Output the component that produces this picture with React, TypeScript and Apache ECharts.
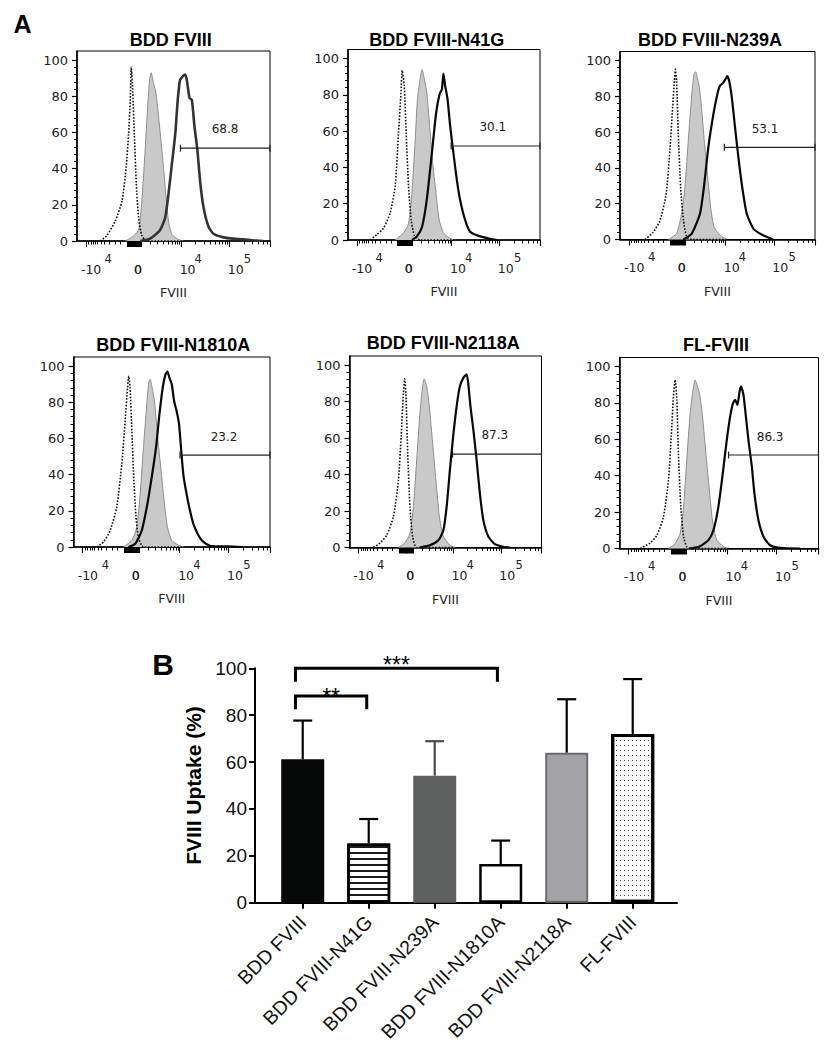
import React, { useEffect, useRef } from 'react';
import * as echarts from 'echarts';

// ---------------- Panel A: flow cytometry histograms ----------------
const PANEL_TITLES = ['BDD FVIII', 'BDD FVIII-N41G', 'BDD FVIII-N239A', 'BDD FVIII-N1810A', 'BDD FVIII-N2118A', 'FL-FVIII'];

// x in % of the biexponential axis width, y in % of mode
const P1_DOTTED = [[12, 0], [15.5, 3], [19.8, 11], [23.3, 22], [25.5, 41], [26.7, 59], [27.6, 78], [28.1, 96], [28.8, 85], [29.7, 59], [30.7, 32], [31.9, 13], [33.6, 3], [36, 0], [55, 0]];
const P1_GRAY = [[25, 0], [28.4, 2], [31.9, 6], [33.6, 22], [35.3, 50], [36.6, 74], [37.6, 89], [38.4, 93], [39.7, 87], [41, 81], [42.8, 63], [44.5, 44.5], [46, 26], [47.4, 11], [49, 4], [51.7, 1.3], [55, 0]];
const P1_BLACK = [[32.8, 0], [37.9, 1.3], [43, 6], [45.7, 13], [47.4, 26], [49, 41], [50.9, 59], [52.2, 78], [53.4, 89], [54.8, 91], [56, 92], [56.9, 89], [58.3, 79], [59.5, 78], [60.9, 63], [62.4, 50], [63.8, 33], [65.5, 19], [68.1, 8], [70.7, 4], [75.9, 2], [81, 1.3], [86.2, 1], [93, 0.2], [96.5, 0]];

const P2_DOTTED = [[11.6, 0], [15, 3], [18.5, 6.5], [22, 15], [24.6, 30], [26.3, 59], [27.6, 81], [28.2, 93.5], [29.3, 85], [30.3, 59], [31.5, 30], [32.9, 11], [34.7, 2], [37.6, 0], [55, 0]];
const P2_GRAY = [[24.6, 0], [29, 4], [31.5, 9], [33.3, 26], [35, 55.5], [36.2, 78], [37.6, 89], [38.6, 94], [39.7, 89], [41, 81.5], [42.5, 63], [44, 44], [45.8, 26], [47.5, 11], [49.7, 4], [52.3, 1.5], [55, 0]];
const P2_BLACK = [[33.3, 0], [35.9, 2], [38.5, 7], [41, 22], [43.7, 48], [45.9, 70], [47.7, 80.5], [48.9, 83], [49.7, 91.7], [50.6, 85], [51.8, 78], [53.2, 63], [54.9, 48], [56.7, 33], [58.4, 22], [61, 11], [63.6, 4.6], [68.8, 2], [74, 0.7], [77.5, 0]];

const P3_DOTTED = [[12.8, 0], [17, 4], [20.5, 10.6], [23.6, 25], [25.6, 50], [27, 74], [27.9, 88.5], [28.4, 95], [29, 88.5], [29.9, 59], [31.1, 29], [32.5, 11], [34.2, 1.5], [36.8, 0], [55, 0]];
const P3_GRAY = [[24.8, 0], [29, 3.3], [31.6, 14.4], [33.3, 29], [35, 55], [36.8, 81], [37.9, 92], [38.8, 93.7], [39.7, 90], [40.7, 85], [41.9, 72.6], [43.2, 55.5], [44.8, 37], [46.5, 18], [48.2, 7], [51.3, 2.4], [54.7, 0]];
const P3_BLACK = [[32.5, 0], [36.8, 3.3], [41, 14.4], [43, 29], [45.3, 51.5], [47.9, 70], [49.9, 81], [51.3, 86], [53, 87.6], [54, 89.4], [55, 91.3], [56, 88.5], [57.3, 79.6], [59, 62.6], [60.7, 46], [62.7, 29], [65, 14.4], [68.4, 6], [71.8, 3.3], [75.2, 1.5], [78.6, 0]];

const P4_DOTTED = [[11.9, 0], [15.3, 2.8], [18.6, 9], [22, 22], [24.6, 46], [26.3, 70], [27.5, 88], [28.1, 94.5], [28.8, 88], [29.7, 64], [30.5, 42], [31.7, 18], [33, 5.5], [35.6, 0], [55, 0]];
const P4_GRAY = [[25.4, 0], [29.7, 3.7], [32.2, 11], [33.9, 29], [35.6, 55], [37.3, 79], [38.3, 91], [39, 92.7], [40, 88], [41.2, 80.7], [42.7, 62], [44.4, 44], [46.1, 25.7], [47.8, 11], [50, 3.7], [53.4, 1], [55.9, 0]];
const P4_BLACK = [[28, 0], [31.4, 1.8], [34.7, 9], [37.3, 22], [39.8, 38.5], [42, 55], [43.7, 73], [45.4, 88], [46.8, 95.4], [47.8, 96.9], [48.8, 93.6], [50, 90], [51.2, 80.7], [52.5, 75], [53.7, 68], [54.7, 55], [55.9, 40], [57.6, 29], [59.3, 20], [61, 12.8], [63.6, 6.4], [66.1, 2.8], [69.5, 0.7], [74.6, 0.4], [81.4, 0.2], [86, 0]];

const P5_DOTTED = [[12.5, 0], [16, 2.6], [19.4, 6.8], [22.9, 17], [25.5, 37], [26.9, 61], [28.1, 85], [28.8, 92.5], [29.5, 81], [30.3, 52], [31.5, 22], [32.9, 6], [35, 0], [55, 0]];
const P5_GRAY = [[25.5, 0], [28.9, 2.6], [31.5, 7.7], [33.3, 22.4], [35, 48], [36.7, 74], [38.1, 88.4], [38.9, 92.5], [40.2, 88.4], [41.6, 77.4], [43.3, 57], [45, 37], [46.8, 17], [48.9, 6], [52.3, 1.3], [55, 0]];
const P5_BLACK = [[36.7, 0], [42, 1.3], [46.3, 4], [48.9, 9.5], [50.6, 22.4], [52.3, 42.6], [54, 61], [55.8, 77.4], [57.5, 88.4], [59.3, 93], [61, 94.9], [62, 88.4], [63, 77.4], [64.5, 64.6], [66.2, 48], [67.9, 29.7], [69.7, 15], [72.3, 6], [75.7, 1.8], [80, 0.4], [83.5, 0]];

const P6_DOTTED = [[10.4, 0], [15.4, 3], [18.8, 7.3], [22.1, 17.4], [24.6, 37.6], [26, 61.5], [27.1, 83.5], [28, 92.7], [28.8, 81.7], [29.6, 52.3], [30.8, 23], [32.2, 6.4], [33.8, 1], [36.3, 0], [55, 0]];
const P6_GRAY = [[24.6, 0], [28, 2.8], [30.5, 8.3], [32.2, 23], [33.8, 48.6], [35.5, 74.3], [36.9, 87], [38, 92.7], [39.2, 89], [40.5, 83.5], [41.9, 70.6], [43.4, 52.3], [45, 34], [46.7, 15.6], [48.9, 4.6], [52.3, 1], [54.8, 0]];
const P6_BLACK = [[35.5, 0], [40.5, 1.3], [44.7, 4.6], [47.2, 10], [49.7, 23], [51.9, 41.3], [53.9, 59.6], [55.6, 72.5], [57, 79.8], [58.1, 81.7], [59.3, 78.9], [60.3, 86.2], [61.1, 89], [62.3, 84.4], [63.7, 70.6], [64.8, 59.6], [66.5, 45], [67.8, 30.3], [69.8, 15.6], [72.4, 6.4], [75.7, 1.8], [80.7, 0.4], [90.8, 0]];

const DOTTED = [P1_DOTTED, P2_DOTTED, P3_DOTTED, P4_DOTTED, P5_DOTTED, P6_DOTTED];
const GRAY = [P1_GRAY, P2_GRAY, P3_GRAY, P4_GRAY, P5_GRAY, P6_GRAY];
const BLACK = [P1_BLACK, P2_BLACK, P3_BLACK, P4_BLACK, P5_BLACK, P6_BLACK];

// gates
const GATE_START = [53.6, 53.7, 53.5, 54.2, 53.7, 54.8];
const GATE_END = [100, 100, 100, 100, 100, 100];
const GATE_Y = [51.3, 51.8, 51.5, 50.8, 51.2, 51.4];
const GATE_LABEL_X = [76.7, 75.4, 74.4, 76.6, 75.7, 75.7];
const GATE_LABEL_Y = [62, 62.4, 61.7, 60.6, 61.8, 61.5];
const GATE_LABELS = ['68.8', '30.1', '53.1', '23.2', '87.3', '86.3'];

// axis ticks / labels of the histograms
const FLOW_X_MIN = 0;
const FLOW_X_MAX = 100;
const FLOW_Y_TICKS = [0, 20, 40, 60, 80, 100];
const FLOW_Y_MINOR = [4, 8, 12, 16, 24, 28, 32, 36, 44, 48, 52, 56, 64, 68, 72, 76, 84, 88, 92, 96];
const FLOW_X_MAJOR = [4.6, 25.8, 26.3, 26.8, 27.3, 27.8, 28.3, 28.8, 29.3, 29.8, 30.3, 30.8, 31.3, 31.8, 32.3, 32.8, 33.3, 54, 79, 100];
const FLOW_X_MINOR = [6, 7.2, 8.3, 9.5, 10.7, 12.4, 14.3, 16.9, 19.8, 22.4, 38, 41.7, 44.8, 47.4, 49.1, 50.8, 52.1, 53.1, 61.5, 65.9, 69.1, 71.5, 73.5, 75.1, 76.6, 77.9, 86.5, 90.9, 94.1, 96.5, 98.5];
const FLOW_X_LABEL_POS = [7.3, 31.6, 57.3, 82.2];
const FLOW_X_LABEL_TEXT = ['-10', '0', '10', '10'];
const FLOW_X_ZERO_INDEX = 1;
const FLOW_X_SUP_POS = [16.2, 62.8, 88.3];
const FLOW_X_SUP_TEXT = ['4', '4', '5'];
const FLOW_X_NAME = 'FVIII';

// ---------------- Panel B: bar chart ----------------
const BAR_CATEGORIES = ['BDD FVIII', 'BDD FVIII-N41G', 'BDD FVIII-N239A', 'BDD FVIII-N1810A', 'BDD FVIII-N2118A', 'FL-FVIII'];
const BAR_MEANS = [61.2, 25.3, 54.2, 16.5, 64, 72];
const BAR_SD_TOP = [77.7, 35.7, 68.9, 26.5, 86.8, 95.4];
const BAR_Y_TICKS = [0, 20, 40, 60, 80, 100];
const SIG_LEFT = [-0.11, -0.11];
const SIG_RIGHT = [0.97, 2.95];
const SIG_Y = [88.2, 100];
const SIG_LEG = [82.5, 94.3];
const SIG_LABEL_Y = [87.8, 101.3];
const SIG_TEXT = ['**', '***'];

// ---------------- layout & styles ----------------
const FF = '"Liberation Sans", Arial, Helvetica, sans-serif';
const FS = '"DejaVu Sans", sans-serif';

const FLOW_GRID = [
  { left: 77, top: 51, width: 193, height: 190 },
  { left: 348, top: 49.5, width: 192, height: 190.5 },
  { left: 620, top: 51.5, width: 195, height: 188 },
  { left: 73.5, top: 357, width: 196.5, height: 190 },
  { left: 349.5, top: 356, width: 192, height: 191.5 },
  { left: 619.5, top: 357.5, width: 199, height: 191 },
];
const TITLE_POS = [[170.8, 40], [436.7, 39.5], [710, 40], [173.3, 345], [443.3, 343.3], [716, 345]];
const FLOW_Y_MAX = 105;
const BAR_GRID = { left: 255, top: 668.3, width: 422, height: 234.4 };
const X_LABEL_DY = 28;
const X_SUP_DY = 17.5;

const BAR_STYLES: any[] = [
  { color: '#070908' },
  {
    color: '#ffffff', borderColor: '#000', borderWidth: 2.5,
    decal: { symbol: 'rect', symbolSize: 1, dashArrayX: [1, 0], dashArrayY: [2, 4], color: '#1a1a1a', backgroundColor: '#ffffff' },
  },
  { color: '#5d605f' },
  { color: '#ffffff', borderColor: '#000', borderWidth: 2.5 },
  { color: '#a3a2a7', borderColor: '#6c6c6e', borderWidth: 2 },
  {
    color: '#ffffff', borderColor: '#000', borderWidth: 3,
    decal: { symbol: 'rect', symbolSize: 1, dashArrayX: [1, 3], dashArrayY: [1, 4], color: '#444', backgroundColor: '#ffffff' },
  },
];
const ERR_COLORS = ['#000', '#000', '#4a4a4a', '#000', '#000', '#000'];

const labelStyle = (text: string, size: number) => ({
  text, fill: '#222', fontSize: size, fontFamily: FS, align: 'center', verticalAlign: 'middle',
});

function buildOption() {
  const grid: any[] = [];
  const xAxis: any[] = [];
  const yAxis: any[] = [];
  const series: any[] = [];
  const graphic: any[] = [];

  for (let p = 0; p < 6; p++) {
    const g = FLOW_GRID[p];
    grid.push({
      ...g, show: true, borderColor: '#000', borderWidth: 1, backgroundColor: 'transparent',
      containLabel: false, outerBoundsMode: 'none',
    });
    xAxis.push({
      gridIndex: p, type: 'value', position: 'bottom', min: FLOW_X_MIN, max: FLOW_X_MAX,
      axisLine: { show: true, onZero: false, lineStyle: { color: '#000', width: 1.6 } },
      axisTick: { show: true, customValues: FLOW_X_MAJOR, length: 6, lineStyle: { color: '#000', width: 1.1 } },
      axisLabel: { show: false },
      splitLine: { show: false },
      name: FLOW_X_NAME, nameLocation: 'middle', nameGap: 45,
      nameTextStyle: { fontSize: 12.5, fontFamily: FS, color: '#222' },
    });
    xAxis.push({
      gridIndex: p, type: 'value', position: 'bottom', min: FLOW_X_MIN, max: FLOW_X_MAX,
      axisLine: { show: false },
      axisTick: { show: true, customValues: FLOW_X_MINOR, length: 3.5, lineStyle: { color: '#000', width: 1 } },
      axisLabel: { show: false },
      splitLine: { show: false },
    });
    yAxis.push({
      gridIndex: p, type: 'value', position: 'left', min: 0, max: FLOW_Y_MAX,
      axisLine: { show: true, onZero: false, lineStyle: { color: '#000', width: 1.6 } },
      axisTick: { show: true, customValues: FLOW_Y_TICKS, length: 5, lineStyle: { color: '#000', width: 1.2 } },
      axisLabel: { show: true, customValues: FLOW_Y_TICKS, fontSize: 13, fontFamily: FS, color: '#222', margin: 9 },
      splitLine: { show: false },
    });
    yAxis.push({
      gridIndex: p, type: 'value', position: 'left', min: 0, max: FLOW_Y_MAX,
      axisLine: { show: false },
      axisTick: { show: true, customValues: FLOW_Y_MINOR, length: 3, lineStyle: { color: '#000', width: 1 } },
      axisLabel: { show: false },
      splitLine: { show: false },
    });

    const xi = 2 * p;
    const yi = 2 * p;
    series.push({
      type: 'line', xAxisIndex: xi, yAxisIndex: yi, data: GRAY[p], symbol: 'none', smooth: 0.2,
      lineStyle: { color: '#8d8d8d', width: 1 }, areaStyle: { color: '#c9c9c9', opacity: 1 }, z: 2, silent: true,
    });
    series.push({
      type: 'line', xAxisIndex: xi, yAxisIndex: yi, data: DOTTED[p], symbol: 'none', smooth: 0.2,
      lineStyle: { color: '#111', width: 1.6, type: [1.6, 1.6] }, z: 3, silent: true,
    });
    series.push({
      type: 'line', xAxisIndex: xi, yAxisIndex: yi, data: BLACK[p], symbol: 'none', smooth: 0.2,
      lineStyle: { color: p === 0 ? '#333' : '#080808', width: p === 0 ? 2.6 : 2.2 }, z: 4, silent: true,
    });
    const label = GATE_LABELS[p];
    series.push({
      type: 'custom', xAxisIndex: xi, yAxisIndex: yi, z: 5, silent: true, clip: false,
      data: [[GATE_START[p], GATE_END[p], GATE_Y[p], GATE_LABEL_X[p], GATE_LABEL_Y[p]]],
      renderItem: (params: any, api: any) => {
        const a = api.coord([api.value(0), api.value(2)]);
        const b = api.coord([api.value(1), api.value(2)]);
        const t = api.coord([api.value(3), api.value(4)]);
        const st = { stroke: '#222', lineWidth: 1.2 };
        return {
          type: 'group',
          children: [
            { type: 'line', shape: { x1: a[0], y1: a[1], x2: b[0], y2: b[1] }, style: st },
            { type: 'line', shape: { x1: a[0], y1: a[1] - 3.5, x2: a[0], y2: a[1] + 3.5 }, style: st },
            { type: 'line', shape: { x1: b[0], y1: b[1] - 3.5, x2: b[0], y2: b[1] + 3.5 }, style: st },
            { type: 'text', x: t[0], y: t[1], style: labelStyle(label, 12) },
          ],
        };
      },
    });
    // x tick labels (biexponential axis): base text and superscript exponent
    series.push({
      type: 'custom', xAxisIndex: xi, yAxisIndex: yi, z: 5, silent: true, clip: false,
      data: FLOW_X_LABEL_POS.map((v) => [v, 0]),
      renderItem: (params: any, api: any) => {
        const c = api.coord([api.value(0), api.value(1)]);
        return { type: 'text', x: c[0], y: c[1] + X_LABEL_DY, style: labelStyle(FLOW_X_LABEL_TEXT[params.dataIndex], 12.5) };
      },
    });
    series.push({
      type: 'custom', xAxisIndex: xi, yAxisIndex: yi, z: 5, silent: true, clip: false,
      data: FLOW_X_SUP_POS.map((v) => [v, 0]),
      renderItem: (params: any, api: any) => {
        const c = api.coord([api.value(0), api.value(1)]);
        return { type: 'text', x: c[0], y: c[1] + X_SUP_DY, style: labelStyle(FLOW_X_SUP_TEXT[params.dataIndex], 11.5) };
      },
    });

    graphic.push({
      type: 'text', x: TITLE_POS[p][0], y: TITLE_POS[p][1], silent: true,
      style: { text: PANEL_TITLES[p], fill: '#000', fontSize: 18, fontWeight: 'bold', fontFamily: FF, align: 'center', verticalAlign: 'middle' },
    });
  }

  // ---- bar chart ----
  grid.push({ ...BAR_GRID, show: false, containLabel: false, outerBoundsMode: 'none' });
  const barX = xAxis.length;
  const barY = yAxis.length;
  const barIdx = BAR_CATEGORIES.map((_, i) => i);
  xAxis.push({
    gridIndex: 6, type: 'value', position: 'bottom', min: -0.723, max: 5.671,
    axisLine: { show: true, onZero: false, lineStyle: { color: '#000', width: 2 } },
    axisTick: { show: true, customValues: barIdx, length: 6, lineStyle: { color: '#000', width: 2 } },
    axisLabel: {
      show: true, customValues: barIdx, formatter: (v: number) => BAR_CATEGORIES[Math.round(v)] ?? '',
      rotate: 45, fontSize: 19.5, fontFamily: FF, color: '#111', margin: 16,
    },
    splitLine: { show: false },
  });
  yAxis.push({
    gridIndex: 6, type: 'value', position: 'left', min: 0, max: 100, interval: 20,
    axisLine: { show: true, onZero: false, lineStyle: { color: '#000', width: 2 } },
    axisTick: { show: true, customValues: BAR_Y_TICKS, length: 6, lineStyle: { color: '#000', width: 2 } },
    axisLabel: { show: true, customValues: BAR_Y_TICKS, fontSize: 19, fontFamily: FF, color: '#111', margin: 8 },
    splitLine: { show: false },
    name: 'FVIII Uptake (%)', nameLocation: 'middle', nameGap: 44,
    nameTextStyle: { fontSize: 21, fontWeight: 'bold', fontFamily: FF, color: '#000' },
  });
  series.push({
    type: 'bar', xAxisIndex: barX, yAxisIndex: barY, barWidth: 43, z: 2, silent: true,
    data: BAR_MEANS.map((m, i) => ({ value: [i, m], itemStyle: BAR_STYLES[i] })),
  });
  series.push({
    type: 'custom', xAxisIndex: barX, yAxisIndex: barY, z: 3, silent: true, clip: false,
    data: BAR_MEANS.map((m, i) => [i, m, BAR_SD_TOP[i]]),
    renderItem: (params: any, api: any) => {
      const p0 = api.coord([api.value(0), api.value(1)]);
      const p1 = api.coord([api.value(0), api.value(2)]);
      const st = { stroke: ERR_COLORS[params.dataIndex], lineWidth: 2.2 };
      return {
        type: 'group',
        children: [
          { type: 'line', shape: { x1: p0[0], y1: p0[1], x2: p1[0], y2: p1[1] }, style: st },
          { type: 'line', shape: { x1: p1[0] - 9.5, y1: p1[1], x2: p1[0] + 9.5, y2: p1[1] }, style: st },
        ],
      };
    },
  });
  series.push({
    type: 'custom', xAxisIndex: barX, yAxisIndex: barY, z: 4, silent: true, clip: false,
    data: SIG_TEXT.map((_, i) => [SIG_LEFT[i], SIG_RIGHT[i], SIG_Y[i], SIG_LEG[i], SIG_LABEL_Y[i]]),
    renderItem: (params: any, api: any) => {
      const a = api.coord([api.value(0), api.value(3)]);
      const b = api.coord([api.value(0), api.value(2)]);
      const c = api.coord([api.value(1), api.value(2)]);
      const d = api.coord([api.value(1), api.value(3)]);
      const t = api.coord([(api.value(0) + api.value(1)) / 2, api.value(4)]);
      return {
        type: 'group',
        children: [
          {
            type: 'polyline', shape: { points: [a, b, c, d] },
            style: { stroke: '#000', lineWidth: 3, fill: 'none', lineJoin: 'miter' },
          },
          {
            type: 'text', x: t[0], y: t[1],
            style: { text: SIG_TEXT[params.dataIndex], fill: '#000', fontSize: 23, fontFamily: FF, align: 'center', verticalAlign: 'middle' },
          },
        ],
      };
    },
  });

  graphic.push({
    type: 'text', x: 22.5, y: 24, silent: true,
    style: { text: 'A', fill: '#000', fontSize: 25, fontWeight: 'bold', fontFamily: FF, align: 'center', verticalAlign: 'middle' },
  });
  graphic.push({
    type: 'text', x: 163, y: 664, silent: true,
    style: { text: 'B', fill: '#000', fontSize: 30, fontWeight: 'bold', fontFamily: FF, align: 'center', verticalAlign: 'middle' },
  });

  return {
    animation: false,
    backgroundColor: '#ffffff',
    textStyle: { fontFamily: FF },
    grid, xAxis, yAxis, series, graphic,
  };
}

export default function App() {
  const ref = useRef<HTMLDivElement>(null);
  useEffect(() => {
    if (!ref.current) return;
    const chart = echarts.init(ref.current, undefined, { renderer: 'svg' });
    const option: any = buildOption();
    chart.setOption(option);
    // second pass: the "0" tick labels of the biexponential axes as graphic texts
    const zeroPos = FLOW_X_LABEL_POS[FLOW_X_ZERO_INDEX];
    const zeroText = FLOW_X_LABEL_TEXT[FLOW_X_ZERO_INDEX];
    const zeroLabels: any[] = [];
    for (let p = 0; p < 6; p++) {
      const g = FLOW_GRID[p];
      let c: any = null;
      try {
        c = chart.convertToPixel({ xAxisIndex: 2 * p, yAxisIndex: 2 * p } as any, [zeroPos, 0]);
      } catch (e) {
        c = null;
      }
      if (!c || !isFinite(c[0]) || !isFinite(c[1])) {
        c = [g.left + (g.width * (zeroPos - FLOW_X_MIN)) / (FLOW_X_MAX - FLOW_X_MIN), g.top + g.height];
      }
      zeroLabels.push({
        type: 'text', x: c[0], y: c[1] + X_LABEL_DY, silent: true, z: 50,
        style: { text: zeroText, fill: '#222', font: '12.5px "DejaVu Sans", sans-serif', align: 'center', verticalAlign: 'middle' },
      });
    }
    chart.setOption({ graphic: [...option.graphic, ...zeroLabels] });
    return () => chart.dispose();
  }, []);
  return (
    <div
      ref={ref}
      style={{ position: 'absolute', left: 0, top: 0, width: 839, height: 1050, background: '#fff' }}
    />
  );
}
